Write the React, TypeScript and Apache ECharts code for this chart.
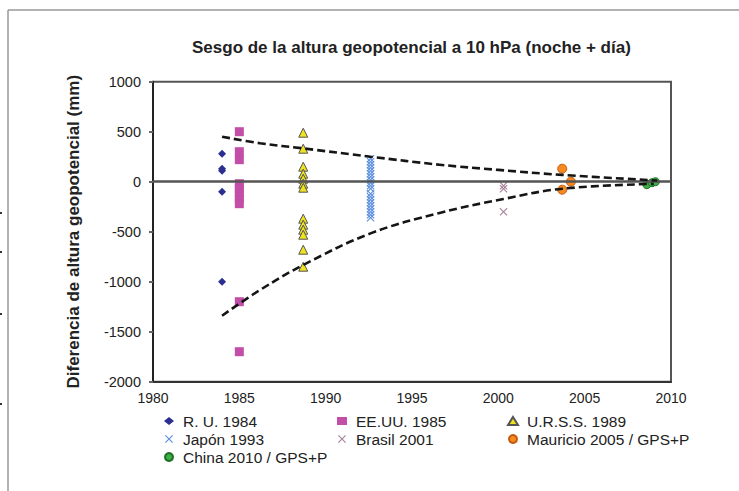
import React, { useEffect, useRef } from "react";
import * as echarts from "echarts";

const TITLE = "Sesgo de la altura geopotencial a 10 hPa (noche + día)";
const Y_NAME = "Diferencia de altura geopotencial (mm)";

// scatter series: [year, value]
const ruData: [number, number][] = [
  [1984, 280], [1984, 130], [1984, 110], [1984, -100], [1984, -1000],
];
const usData: [number, number][] = [
  [1985, 500], [1985, 300], [1985, 220], [1985, -20], [1985, -70], [1985, -120],
  [1985, -170], [1985, -220], [1985, -1200], [1985, -1700],
];
const ussrData: [number, number][] = [
  [1988.7, 490], [1988.7, 330], [1988.7, 150], [1988.7, 80], [1988.7, 30], [1988.7, -20],
  [1988.7, -60], [1988.7, -370], [1988.7, -430], [1988.7, -480], [1988.7, -530],
  [1988.7, -680], [1988.7, -850],
];
const japanData: [number, number][] = [
  [1992.6, 230], [1992.6, 200], [1992.6, 170], [1992.6, 140], [1992.6, 110], [1992.6, 80],
  [1992.6, 50], [1992.6, 20], [1992.6, -10], [1992.6, -40], [1992.6, -70], [1992.6, -120],
  [1992.6, -150], [1992.6, -180], [1992.6, -210], [1992.6, -240], [1992.6, -270],
  [1992.6, -300], [1992.6, -330], [1992.6, -360],
];
const brazilData: [number, number][] = [
  [2000.3, -40], [2000.3, -70], [2000.3, -300],
];
const mauritiusData: [number, number][] = [
  [2003.7, 130], [2004.2, 0], [2003.7, -80],
];
const chinaData: [number, number][] = [
  [2008.6, -30], [2008.9, -10], [2009.1, 0],
];

// dashed envelope curves
const upperTrend: [number, number][] = [
  [1984, 450], [1986.2, 385], [1988.7, 333], [1992.6, 250], [1996.6, 170],
  [2000, 118], [2003.7, 68], [2009.2, 12],
];
const lowerTrend: [number, number][] = [
  [1984, -1340], [1986.2, -1083], [1988.7, -833], [1992.6, -517], [1996.6, -313],
  [2000.3, -173], [2003.7, -70], [2009, -22],
];

const X_MIN = 1980;
const X_MAX = 2010;
const X_STEP = 5;
const Y_MIN = -2000;
const Y_MAX = 1000;
const Y_STEP = 500;

const FONT = "'Liberation Sans', Arial, Helvetica, sans-serif";
const X_PATH =
  "path://M1,0 L5,4 L9,0 L10,1 L6,5 L10,9 L9,10 L5,6 L1,10 L0,9 L4,5 L0,1 Z";

export default function App() {
  const ref = useRef<HTMLDivElement>(null);

  useEffect(() => {
    if (!ref.current) return;
    const chart = echarts.init(ref.current, undefined, { renderer: "svg" });

    const scatter = (
      name: string,
      data: [number, number][],
      symbol: string,
      size: number,
      color: string,
      border?: string
    ) => ({
      name,
      type: "scatter",
      data,
      symbol,
      symbolSize: size,
      itemStyle: {
        color,
        borderColor: border || color,
        borderWidth: border ? 1 : 0,
        opacity: 1,
      },
      z: 3,
    });

    const trend = (name: string, data: [number, number][]) => ({
      name,
      type: "line",
      data,
      smooth: 0.4,
      symbol: "none",
      lineStyle: { color: "#151515", width: 2.6, type: [8, 4] },
      z: 5,
      silent: true,
    });

    const legendBase = {
      orient: "vertical",
      top: 408,
      itemGap: 2,
      itemWidth: 10,
      itemHeight: 8,
      selectedMode: false,
      textStyle: {
        fontFamily: FONT,
        fontSize: 15.5,
        color: "#222",
        lineHeight: 16,
        padding: [0, 0, 0, 4],
      },
    };

    chart.setOption({
      animation: false,
      backgroundColor: "#ffffff",
      title: {
        text: TITLE,
        left: 192,
        top: 39,
        padding: 0,
        textStyle: { fontFamily: FONT, fontSize: 17, fontWeight: "bold", color: "#222" },
      },
      grid: {
        left: 153,
        right: 68,
        top: 81.7,
        bottom: 109.3,
        show: true,
        borderColor: "#555",
        borderWidth: 2,
        backgroundColor: "transparent",
      },
      xAxis: {
        type: "value",
        min: X_MIN,
        max: X_MAX,
        interval: X_STEP,
        axisLine: { show: true, onZero: false, lineStyle: { color: "#333", width: 2 } },
        axisTick: { show: false },
        splitLine: { show: false },
        axisLabel: {
          fontFamily: FONT, fontSize: 14, color: "#222", margin: 9,
          formatter: (v: number) => String(v),
        },
      },
      yAxis: {
        type: "value",
        min: Y_MIN,
        max: Y_MAX,
        interval: Y_STEP,
        name: Y_NAME,
        nameLocation: "middle",
        nameGap: 71,
        nameTextStyle: { fontFamily: FONT, fontSize: 17, fontWeight: "bold", color: "#222" },
        axisLine: { show: true, onZero: false, lineStyle: { color: "#222", width: 2 } },
        axisTick: { show: true, length: 4, lineStyle: { color: "#666", width: 2 } },
        splitLine: { show: false },
        axisLabel: {
          fontFamily: FONT, fontSize: 14.5, color: "#222", margin: 12,
          formatter: (v: number) => String(v),
        },
      },
      legend: [
        { ...legendBase, left: 159, data: [
          { name: "R. U. 1984", icon: "diamond" },
          { name: "Japón 1993", icon: X_PATH },
          { name: "China 2010 / GPS+P", icon: "circle" },
        ] },
        { ...legendBase, left: 332, data: [
          { name: "EE.UU. 1985", icon: "rect" },
          { name: "Brasil 2001", icon: X_PATH },
        ] },
        { ...legendBase, left: 502, data: [
          { name: "U.R.S.S. 1989", icon: "triangle" },
          { name: "Mauricio 2005 / GPS+P", icon: "circle" },
        ] },
      ],
      graphic: [
        { type: "line", shape: { x1: 8, y1: 10, x2: 739, y2: 10 }, style: { stroke: "#999", lineWidth: 1.5 } },
        { type: "line", shape: { x1: 8, y1: 10, x2: 8, y2: 491 }, style: { stroke: "#999", lineWidth: 1.5 } },
        { type: "rect", shape: { x: 0, y: 212, width: 2, height: 2 }, style: { fill: "#333" } },
        { type: "rect", shape: { x: 0, y: 251, width: 2, height: 2 }, style: { fill: "#333" } },
        { type: "rect", shape: { x: 0, y: 313, width: 2, height: 2 }, style: { fill: "#333" } },
        { type: "rect", shape: { x: 0, y: 403, width: 2, height: 2 }, style: { fill: "#333" } },
      ],
      series: [
        {
          ...scatter("R. U. 1984", ruData, "diamond", 8, "#2b2f8f"),
          markLine: {
            silent: true,
            symbol: "none",
            label: { show: false },
            lineStyle: { color: "#555", width: 2.5, type: "solid" },
            data: [{ yAxis: 0 }],
          },
        },
        scatter("EE.UU. 1985", usData, "rect", 9, "#c24ea8"),
        scatter("U.R.S.S. 1989", ussrData, "triangle", 9, "#efe21e", "#555"),
        scatter("Japón 1993", japanData, X_PATH, 8, "#5b8fe0"),
        scatter("Brasil 2001", brazilData, X_PATH, 8, "#a9829c"),
        scatter("Mauricio 2005 / GPS+P", mauritiusData, "circle", 9, "#f58a1f", "#c45a10"),
        scatter("China 2010 / GPS+P", chinaData, "circle", 8, "#3cb043", "#1f6e25"),
        trend("upper", upperTrend),
        trend("lower", lowerTrend),
      ],
    });

    return () => chart.dispose();
  }, []);

  return (
    <div
      ref={ref}
      style={{ position: "fixed", left: 0, top: 0, width: 739, height: 491 }}
    />
  );
}
